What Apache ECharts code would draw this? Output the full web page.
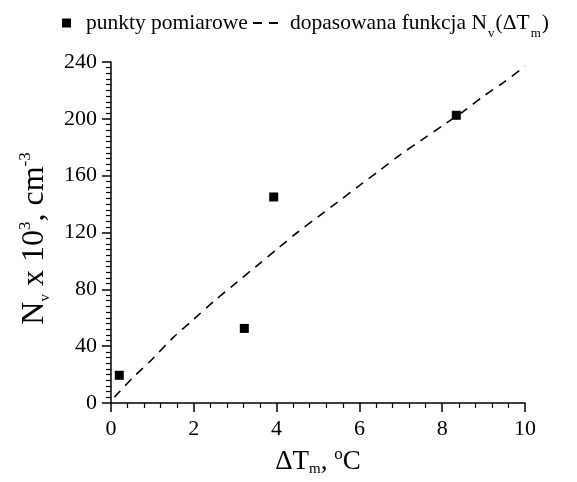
<!DOCTYPE html>
<html>
<head>
<meta charset="utf-8">
<script src="https://cdn.jsdelivr.net/npm/echarts@6/dist/echarts.min.js"></script>
<style>
html,body{margin:0;padding:0;background:#fff;}
#chart{width:577px;height:482px;}
</style>
</head>
<body>
<div id="chart"></div>
<script>
// measured points
const measX = [0.2, 3.22, 3.93, 8.34];
const measY = [19.5, 52.5, 145, 202.5];
// fitted curve
const fitX = [0.08, 0.5, 1, 1.5, 2, 2.5, 3, 3.5, 4, 4.5, 5, 5.5, 6, 6.5, 7, 7.5, 8, 8.5, 9, 9.5, 10];
const fitY = [4, 17, 31, 46, 59, 72, 84, 96, 108, 120, 131, 142, 153, 164, 175, 185, 195, 205, 216, 226, 237];
// axis ticks
const xTickMin = 0, xTickMax = 10, xTickStep = 2;
const yTickMin = 0, yTickMax = 240, yTickStep = 40;
const seriesNames = ['punkty pomiarowe', 'dopasowana funkcja'];

const FONT = 'Liberation Serif';
const subStyle = {fontFamily: FONT, fontSize: 15, lineHeight: 15, verticalAlign: 'bottom', color: '#000'};
const supStyle = {fontFamily: FONT, fontSize: 17, lineHeight: 17, verticalAlign: 'top', color: '#000'};

const chart = echarts.init(document.getElementById('chart'), null, {renderer: 'canvas'});
chart.setOption({
  animation: false,
  backgroundColor: '#fff',
  grid: {left: 111, right: 52, top: 62, bottom: 71},
  legend: [{
    data: [{name: seriesNames[0], icon: 'rect'}],
    left: 57, top: 5,
    itemWidth: 9, itemHeight: 9,
    formatter: function (n) { return '{g|}' + n; },
    textStyle: {fontFamily: FONT, fontSize: 21.5, color: '#000', lineHeight: 26,
      rich: {g: {width: 10}}}
  }, {
    data: [{name: seriesNames[1], icon: 'path://M0,0h9v2h-9zM16,0h9v2h-9z'}],
    left: 248, top: 5,
    itemWidth: 25, itemHeight: 2,
    itemStyle: {color: '#000'},
    formatter: function () { return '{g|}dopasowana funkcja N{sub|v}(ΔT{sub|m})'; },
    textStyle: {fontFamily: FONT, fontSize: 21.5, color: '#000', lineHeight: 26,
      rich: {g: {width: 7}, sub: {fontFamily: FONT, fontSize: 13, lineHeight: 13, verticalAlign: 'bottom', padding: [0, 1, -4, 1]}}}
  }],
  xAxis: {
    type: 'value', min: xTickMin, max: xTickMax, interval: xTickStep,
    name: 'ΔT{sub|m}, {sup|o}C', nameLocation: 'middle', nameGap: 43,
    nameTextStyle: {fontFamily: FONT, fontSize: 27, color: '#000', lineHeight: 31,
      rich: {sub: subStyle, sup: supStyle}},
    axisLine: {lineStyle: {color: '#000', width: 1.5}},
    axisTick: {inside: false, length: 9, lineStyle: {color: '#000', width: 1.5}},
    minorTick: {show: true, splitNumber: 5, length: 5, lineStyle: {color: '#000', width: 1.2}},
    axisLabel: {fontFamily: FONT, fontSize: 22, color: '#000', margin: 15},
    splitLine: {show: false}
  },
  yAxis: {
    type: 'value', min: yTickMin, max: yTickMax, interval: yTickStep,
    name: 'N{sub|v} x 10{sup|3}, cm{sup|-3}', nameLocation: 'middle', nameGap: 58, nameRotate: 90,
    nameTextStyle: {fontFamily: FONT, fontSize: 32, color: '#000', lineHeight: 36, padding: [0, 12, 0, 0],
      rich: {sub: subStyle, sup: supStyle}},
    axisLine: {lineStyle: {color: '#000', width: 1.5}},
    axisTick: {inside: false, length: 9, lineStyle: {color: '#000', width: 1.5}},
    minorTick: {show: true, splitNumber: 10, length: 5, lineStyle: {color: '#000', width: 1.2}},
    axisLabel: {fontFamily: FONT, fontSize: 22, color: '#000', margin: 14},
    splitLine: {show: false}
  },
  series: [{
    name: seriesNames[0],
    type: 'scatter',
    symbol: 'rect', symbolSize: 9,
    itemStyle: {color: '#000', opacity: 1},
    data: measX.map((x, i) => [x, measY[i]]),
    z: 3
  }, {
    name: seriesNames[1],
    type: 'line',
    symbol: 'none', smooth: 0.3,
    lineStyle: {color: '#000', width: 1.6, type: [9, 7]},
    itemStyle: {color: '#000'},
    data: fitX.map((x, i) => [x, fitY[i]]),
    z: 2
  }]
});
</script>
</body>
</html>
